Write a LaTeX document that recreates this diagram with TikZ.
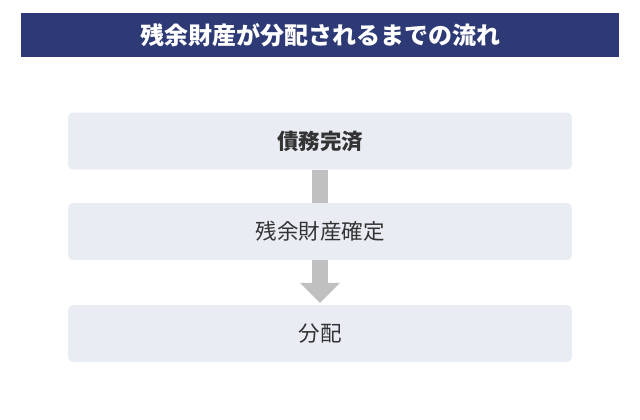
\documentclass[tikz,border=0pt]{standalone}
\usepackage{fontspec}
\setmainfont{Noto Sans CJK JP}
\usetikzlibrary{arrows.meta}
\definecolor{navy}{HTML}{2E3A75}
\definecolor{boxfill}{HTML}{E9ECF3}
\definecolor{conn}{HTML}{C0C0C0}
\definecolor{txt}{HTML}{333333}
\begin{document}
\begin{tikzpicture}[x=1pt,y=-1pt,
  stepbox/.style={fill=boxfill, rounded corners=5pt, minimum width=504pt, minimum height=57pt, inner sep=0pt, text=txt, font=\fontsize{21.5}{24}\selectfont},
  titlebar/.style={fill=navy, minimum width=598pt, minimum height=44pt, inner sep=0pt, text=white, font=\fontsize{24}{26}\selectfont\bfseries},
  bar/.style={draw=none, fill=conn}]
\useasboundingbox (0,0) rectangle (640,420);
\node[titlebar] (title) at (320,35) {残余財産が分配されるまでの流れ};
\node[stepbox, font=\fontsize{21.5}{24}\selectfont\bfseries] (s1) at (320,141) {債務完済};
\node[stepbox] (s2) at (320,231.5) {残余財産確定};
\node[stepbox] (s3) at (320,333.5) {分配};
\fill[conn] ([xshift=-8pt]s1.south) rectangle ([xshift=8pt]s2.north);
\coordinate (ah) at ([yshift=22pt]s3.north);
\fill[conn] ([xshift=-8pt]s2.south) rectangle ([xshift=8pt]ah);
\fill[conn] ([xshift=-20pt]ah) -- ([xshift=20pt]ah) -- ([yshift=2pt]s3.north) -- cycle;
\end{tikzpicture}
\end{document}
